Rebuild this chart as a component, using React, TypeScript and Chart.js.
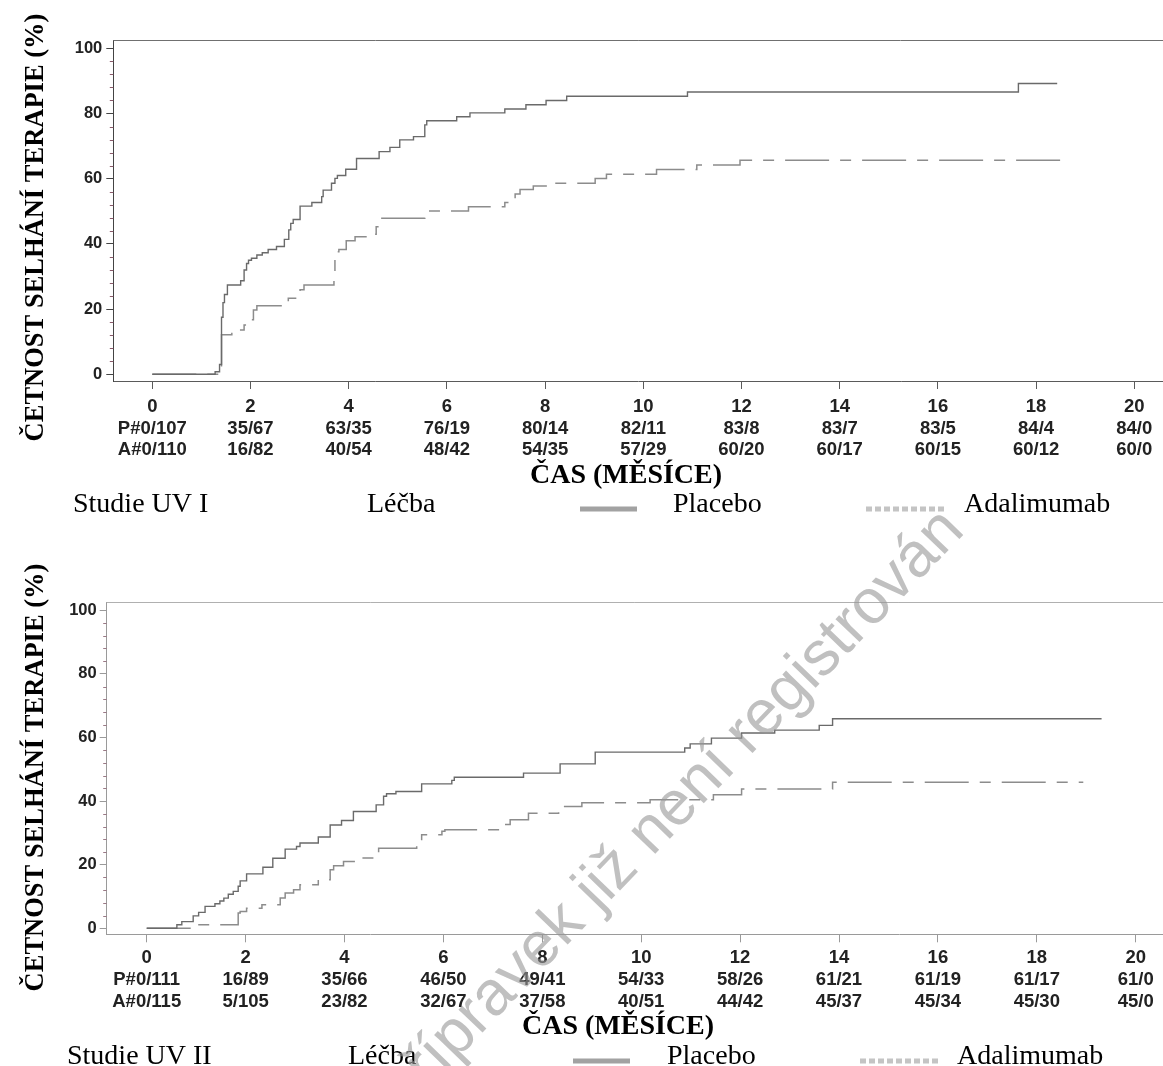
import React, { useEffect, useRef } from "react";
import { Chart, registerables } from "chart.js";

Chart.register(...registerables);

// ---------------- data ----------------
const monthTicks = [0, 2, 4, 6, 8, 10, 12, 14, 16, 18, 20];
const yMajorTicks = [0, 20, 40, 60, 80, 100];
const yMinorTicks = [4, 8, 12, 16, 24, 28, 32, 36, 44, 48, 52, 56, 64, 68, 72, 76, 84, 88, 92, 96];

const uv1AtRiskPlacebo = ["P#0/107", "35/67", "63/35", "76/19", "80/14", "82/11", "83/8", "83/7", "83/5", "84/4", "84/0"];
const uv1AtRiskAdalimumab = ["A#0/110", "16/82", "40/54", "48/42", "54/35", "57/29", "60/20", "60/17", "60/15", "60/12", "60/0"];
const uv2AtRiskPlacebo = ["P#0/111", "16/89", "35/66", "46/50", "49/41", "54/33", "58/26", "61/21", "61/19", "61/17", "61/0"];
const uv2AtRiskAdalimumab = ["A#0/115", "5/105", "23/82", "32/67", "37/58", "40/51", "44/42", "45/37", "45/34", "45/30", "45/0"];

const uv1PlaceboMonths = [0, 1.28, 1.37, 1.41, 1.44, 1.47, 1.53, 1.8, 1.87, 1.92, 1.96, 2.02, 2.13, 2.24, 2.36, 2.53, 2.69, 2.78, 2.82, 2.87, 3.01, 3.25, 3.45, 3.48, 3.65, 3.72, 3.77, 3.94, 4.16, 4.62, 4.84, 5.04, 5.32, 5.55, 5.59, 6.2, 6.47, 7.18, 7.61, 8.02, 8.44, 10.9, 17.64, 18.43];
const uv1PlaceboPct = [0, 0.8, 3, 17.5, 22, 24.5, 27.4, 28.7, 32, 34, 35, 35.6, 36.6, 37.3, 38.3, 39.2, 41.4, 44.3, 46.3, 47.5, 51.6, 52.7, 54.5, 56.5, 58.6, 60.1, 61, 62.9, 66.2, 68.3, 69.6, 71.9, 72.9, 76.5, 77.8, 79, 80.2, 81.4, 82.7, 84, 85.3, 86.6, 89.2, 89.2];

const uv1AdalimumabMonths = [0, 1.41, 1.62, 1.87, 1.99, 2.06, 2.13, 2.77, 2.94, 3.01, 3.09, 3.7, 3.72, 3.77, 3.8, 3.95, 4.13, 4.4, 4.56, 4.64, 5.55, 6.44, 7.18, 7.28, 7.39, 7.49, 7.76, 8.07, 9.02, 9.25, 10.27, 11.09, 11.97, 18.68];
const uv1AdalimumabPct = [0, 12.1, 13.6, 15.1, 16.7, 19.7, 21, 23.3, 24.8, 25.9, 27.4, 28.4, 35.1, 37.6, 38.3, 41, 42.2, 43, 45.3, 47.9, 50.1, 51.4, 52.7, 54, 55.3, 56.7, 57.8, 58.6, 60.1, 61.4, 62.8, 64.2, 65.7, 65.7];

const uv2PlaceboMonths = [0, 0.61, 0.71, 0.94, 1.05, 1.18, 1.38, 1.48, 1.56, 1.65, 1.75, 1.85, 1.89, 2.02, 2.35, 2.55, 2.8, 3.03, 3.1, 3.47, 3.71, 3.94, 4.18, 4.64, 4.79, 4.85, 5.04, 5.56, 6.17, 6.22, 7.62, 8.36, 9.07, 10.88, 10.99, 11.42, 12.03, 12.7, 13.6, 13.87, 19.31];
const uv2PlaceboPct = [0, 1.1, 2.1, 3.9, 5, 6.9, 7.7, 8.6, 9.5, 10.7, 11.6, 13.2, 14.9, 17.1, 19.2, 22, 24.9, 25.7, 26.8, 28.7, 32.5, 33.9, 36.7, 38.8, 41.5, 42.3, 43, 45.4, 46.5, 47.5, 48.8, 51.7, 55.4, 56.7, 58, 59.8, 61.4, 62.3, 63.8, 65.9, 65.9];

const uv2AdalimumabMonths = [0, 0.94, 1.85, 1.89, 2.02, 2.33, 2.7, 2.8, 2.97, 3.1, 3.47, 3.71, 3.78, 3.98, 4.25, 4.65, 4.69, 5.46, 5.56, 5.97, 6.03, 7.14, 7.35, 7.72, 8.33, 8.36, 8.8, 10.18, 11.46, 12.03, 13.87, 18.94];
const uv2AdalimumabPct = [0, 1.1, 4.8, 5.3, 6.3, 7.4, 9.5, 11.1, 12.1, 13.7, 15.3, 18.4, 19.7, 21, 22.1, 23.6, 25.2, 26.9, 29.4, 30.5, 31, 32.6, 34.1, 36.2, 37.2, 38.3, 39.5, 40.4, 42, 43.8, 45.9, 45.9];

const seriesNames = ["Placebo", "Adalimumab"];
const studyNames = ["Studie UV I", "Studie UV II"];
const legendHeader = "Léčba";
const yTitleText = "ČETNOST SELHÁNÍ TERAPIE (%)";
const xTitleText = "ČAS (MĚSÍCE)";
const watermarkText = "Léčivý přípravek již není registrován";

// ---------------- layout / styles ----------------
const PAGE_W = 1163;
const PAGE_H = 1066;
const SANS = '"Liberation Sans", Arial, Helvetica, sans-serif';
const SERIF = '"Liberation Serif", "Times New Roman", Times, serif';

const WATERMARK = { x: 966, y: 532, angle: 46, size: 63, color: "rgba(150,150,150,0.6)" };

type PanelSpec = {
  top: number;
  height: number;
  left: number;
  areaTop: number;
  areaBottom: number;
  xMin: number;
  xMax: number;
  yMin: number;
  yMax: number;
  xTickPadding: number;
  yTickPadding: number;
  axisColor: string;
  leftAxisColor: string;
  topColor: string;
  minorColor: string;
  yTitle: { x: number; y: number };
  xTitle: { x: number; y: number };
  legendBase: number;
  legendX: number[];
  lineSample: [number, number];
  dashSample: [number, number];
  study: string;
  placeboMonths: number[];
  placeboPct: number[];
  adaMonths: number[];
  adaPct: number[];
  atRiskP: string[];
  atRiskA: string[];
};

const panels: PanelSpec[] = [
  {
    top: 0,
    height: 540,
    left: 113.3,
    areaTop: 40,
    areaBottom: 381,
    xMin: -0.794,
    xMax: 20.585,
    yMin: -2.055,
    yMax: 102.55,
    xTickPadding: 7,
    yTickPadding: 4,
    axisColor: "#5a5a5a",
    leftAxisColor: "#444",
    topColor: "#707070",
    minorColor: "#8a5a6a",
    yTitle: { x: 43, y: 227.5 },
    xTitle: { x: 626, y: 483 },
    legendBase: 512,
    legendX: [73, 367, 673, 964],
    lineSample: [580, 637],
    dashSample: [866, 950],
    study: studyNames[0],
    placeboMonths: uv1PlaceboMonths,
    placeboPct: uv1PlaceboPct,
    adaMonths: uv1AdalimumabMonths,
    adaPct: uv1AdalimumabPct,
    atRiskP: uv1AtRiskPlacebo,
    atRiskA: uv1AtRiskAdalimumab,
  },
  {
    top: 540,
    height: 526,
    left: 106.7,
    areaTop: 62.3,
    areaBottom: 394.3,
    xMin: -0.809,
    xMax: 20.552,
    yMin: -1.89,
    yMax: 102.5,
    xTickPadding: 5,
    yTickPadding: 3,
    axisColor: "#9a9a9a",
    leftAxisColor: "#9a9a9a",
    topColor: "#b0b0b0",
    minorColor: "#9a7a86",
    yTitle: { x: 43, y: 237.5 },
    xTitle: { x: 618, y: 494 },
    legendBase: 524,
    legendX: [67, 348, 667, 957],
    lineSample: [573, 630],
    dashSample: [860, 942],
    study: studyNames[1],
    placeboMonths: uv2PlaceboMonths,
    placeboPct: uv2PlaceboPct,
    adaMonths: uv2AdalimumabMonths,
    adaPct: uv2AdalimumabPct,
    atRiskP: uv2AtRiskPlacebo,
    atRiskA: uv2AtRiskAdalimumab,
  },
];

function makeDecorPlugin(spec: PanelSpec) {
  return {
    id: "decor",
    afterDraw(chart: any) {
      const ctx = chart.ctx as CanvasRenderingContext2D;
      const ca = chart.chartArea;
      const ys = chart.scales.y;
      ctx.save();

      // top frame line
      ctx.strokeStyle = spec.topColor;
      ctx.lineWidth = 1;
      ctx.beginPath();
      ctx.moveTo(ca.left, Math.round(ca.top) + 0.5);
      ctx.lineTo(ca.right, Math.round(ca.top) + 0.5);
      ctx.stroke();

      // minor y ticks
      ctx.strokeStyle = spec.minorColor;
      ctx.beginPath();
      for (const v of yMinorTicks) {
        const py = Math.round(ys.getPixelForValue(v)) + 0.5;
        ctx.moveTo(ca.left - 3.5, py);
        ctx.lineTo(ca.left, py);
      }
      ctx.stroke();

      ctx.fillStyle = "#000";

      // y title
      ctx.save();
      ctx.translate(spec.yTitle.x, spec.yTitle.y);
      ctx.rotate(-Math.PI / 2);
      ctx.font = `bold 26.5px ${SERIF}`;
      ctx.textAlign = "center";
      ctx.textBaseline = "alphabetic";
      ctx.fillText(yTitleText, 0, 0);
      ctx.restore();

      // x title
      ctx.font = `bold 28px ${SERIF}`;
      ctx.textAlign = "center";
      ctx.textBaseline = "alphabetic";
      ctx.fillText(xTitleText, spec.xTitle.x, spec.xTitle.y);

      // legend row
      ctx.font = `28px ${SERIF}`;
      ctx.textAlign = "left";
      ctx.fillText(spec.study, spec.legendX[0], spec.legendBase);
      ctx.fillText(legendHeader, spec.legendX[1], spec.legendBase);
      ctx.fillText(seriesNames[0], spec.legendX[2], spec.legendBase);
      ctx.fillText(seriesNames[1], spec.legendX[3], spec.legendBase);

      const ly = spec.legendBase - 3;
      ctx.strokeStyle = "#a2a2a2";
      ctx.lineWidth = 5;
      ctx.beginPath();
      ctx.moveTo(spec.lineSample[0], ly);
      ctx.lineTo(spec.lineSample[1], ly);
      ctx.stroke();

      ctx.fillStyle = "#c4c4c4";
      for (let x = spec.dashSample[0]; x + 6 <= spec.dashSample[1]; x += 9) {
        ctx.fillRect(x, ly - 2.5, 6, 5);
      }

      // watermark
      ctx.save();
      ctx.translate(WATERMARK.x, WATERMARK.y - spec.top);
      ctx.rotate((-WATERMARK.angle * Math.PI) / 180);
      ctx.font = `${WATERMARK.size}px ${SANS}`;
      ctx.fillStyle = WATERMARK.color;
      ctx.textAlign = "right";
      ctx.textBaseline = "alphabetic";
      ctx.fillText(watermarkText, 0, 0);
      ctx.restore();

      ctx.restore();
    },
  };
}

function Panel({ spec }: { spec: PanelSpec }) {
  const ref = useRef<HTMLCanvasElement>(null);
  useEffect(() => {
    const canvas = ref.current;
    if (!canvas) return;
    const chart = new Chart(canvas, {
      type: "line",
      data: {
        datasets: [
          {
            label: seriesNames[0],
            data: spec.placeboMonths.map((m, i) => ({ x: m, y: spec.placeboPct[i] })),
            stepped: true,
            borderColor: "#6a6a6a",
            borderWidth: 1.4,
            pointRadius: 0,
            fill: false,
          },
          {
            label: seriesNames[1],
            data: spec.adaMonths.map((m, i) => ({ x: m, y: spec.adaPct[i] })),
            stepped: true,
            borderColor: "#8c8c8c",
            borderWidth: 1.5,
            borderDash: [44, 11, 11, 11],
            pointRadius: 0,
            fill: false,
          },
        ],
      },
      options: {
        animation: false,
        responsive: false,
        maintainAspectRatio: false,
        layout: { padding: { top: spec.areaTop, left: 0, right: 0, bottom: 0 } },
        plugins: {
          legend: { display: false },
          tooltip: { enabled: false },
          title: { display: false },
        },
        scales: {
          x: {
            type: "linear",
            min: spec.xMin,
            max: spec.xMax,
            afterBuildTicks: (s: any) => {
              s.ticks = monthTicks.map((v) => ({ value: v }));
            },
            afterFit: (s: any) => {
              s.height = spec.height - spec.areaBottom;
              s.paddingLeft = 0;
              s.paddingRight = 0;
            },
            grid: {
              display: true,
              drawOnChartArea: false,
              drawTicks: true,
              tickLength: 8,
              tickColor: spec.axisColor,
              tickWidth: 1,
            },
            border: { display: true, color: spec.axisColor, width: 1 },
            ticks: {
              autoSkip: false,
              maxRotation: 0,
              minRotation: 0,
              padding: spec.xTickPadding,
              color: "#222",
              font: { family: SANS, size: 18.5, weight: "bold", lineHeight: 21.7 / 18.5 },
              callback: (value: any) => {
                const i = monthTicks.indexOf(Number(value));
                return [String(monthTicks[i]), spec.atRiskP[i], spec.atRiskA[i]];
              },
            },
          },
          y: {
            type: "linear",
            min: spec.yMin,
            max: spec.yMax,
            afterBuildTicks: (s: any) => {
              s.ticks = yMajorTicks.map((v) => ({ value: v }));
            },
            afterFit: (s: any) => {
              s.width = spec.left;
              s.paddingTop = 0;
              s.paddingBottom = 0;
            },
            grid: {
              display: true,
              drawOnChartArea: false,
              drawTicks: true,
              tickLength: 7,
              tickColor: spec.leftAxisColor,
              tickWidth: 1,
            },
            border: { display: true, color: spec.leftAxisColor, width: 1 },
            ticks: {
              padding: spec.yTickPadding,
              color: "#222",
              font: { family: SANS, size: 16.5, weight: "bold" },
              callback: (value: any) => String(value),
            },
          },
        },
      },
      plugins: [makeDecorPlugin(spec)],
    } as any);
    return () => chart.destroy();
  }, [spec]);

  return (
    <canvas
      ref={ref}
      width={PAGE_W}
      height={spec.height}
      style={{ position: "absolute", left: 0, top: spec.top, width: PAGE_W, height: spec.height, display: "block" }}
    />
  );
}

export default function App() {
  return (
    <div
      style={{
        position: "absolute",
        left: 0,
        top: 0,
        width: PAGE_W,
        height: PAGE_H,
        background: "#fff",
        overflow: "hidden",
      }}
    >
      {panels.map((p, i) => (
        <Panel key={i} spec={p} />
      ))}
    </div>
  );
}
